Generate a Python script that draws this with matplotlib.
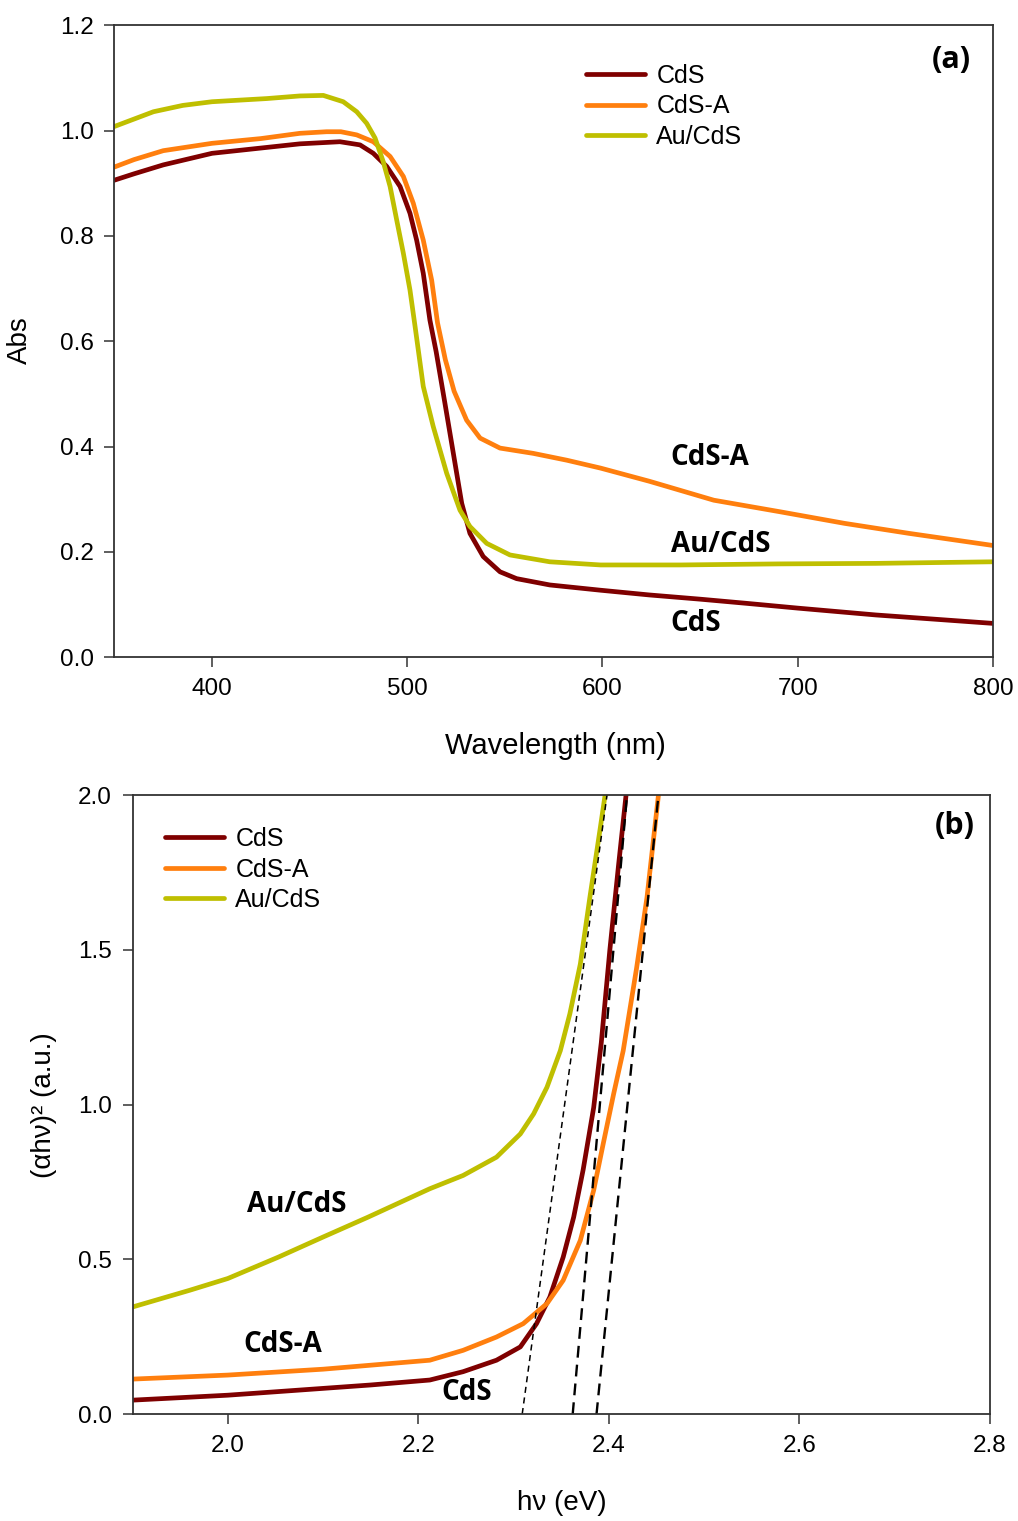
import matplotlib

matplotlib.use("Agg")
import matplotlib.pyplot as plt

plt.rcParams["font.family"] = ["Liberation Sans", "DejaVu Sans"]

SERIES = ["CdS", "CdS-A", "Au/CdS"]
COLORS = ["#7f0000", "#ff7f0e", "#bfbf00"]

# panel (a): absorbance vs wavelength
CDS_WL = [350, 360, 375, 400, 425, 445, 465.5, 475.8, 482.6, 489.5, 496.3, 501.4, 504.8, 508.2,
          511.6, 514.8, 519.3, 523.6, 527.9, 532.1, 538.9, 547.5, 556, 573, 599, 624, 650, 674,
          700, 740, 770, 800]
CDS_ABS = [0.906, 0.918, 0.935, 0.957, 0.967, 0.975, 0.979, 0.973, 0.957, 0.932, 0.894, 0.843,
           0.792, 0.729, 0.640, 0.580, 0.482, 0.387, 0.292, 0.235, 0.191, 0.162, 0.149, 0.137,
           0.127, 0.118, 0.110, 0.102, 0.093, 0.080, 0.072, 0.064]

CDSA_WL = [350, 360, 375, 400, 425, 445, 458.7, 466, 474.1, 482.6, 491.2, 498, 503.1, 508.2,
           512.5, 515.5, 519.5, 524, 530.4, 537.3, 547.5, 564.5, 581.7, 599, 624, 657, 691, 724,
           757, 800]
CDSA_ABS = [0.931, 0.945, 0.962, 0.976, 0.985, 0.995, 0.998, 0.998, 0.992, 0.979, 0.951, 0.913,
            0.862, 0.792, 0.716, 0.635, 0.565, 0.505, 0.450, 0.416, 0.397, 0.387, 0.374, 0.359,
            0.334, 0.298, 0.276, 0.254, 0.235, 0.212]

AU_WL = [350, 360, 370, 385, 400, 428, 445, 457, 467.2, 474.1, 479.2, 483.5, 487.7, 491.2,
         494.6, 498, 501.4, 504, 508.2, 513.3, 520.2, 527, 532.1, 540.7, 552.6, 573, 599, 640,
         690, 740, 800]
AU_ABS = [1.008, 1.022, 1.036, 1.048, 1.055, 1.061, 1.066, 1.067, 1.055, 1.036, 1.014, 0.986,
          0.941, 0.894, 0.830, 0.767, 0.697, 0.628, 0.514, 0.438, 0.349, 0.279, 0.248, 0.216,
          0.194, 0.181, 0.175, 0.175, 0.177, 0.178, 0.181]

# panel (b): Tauc plot
CDS_EV = [1.90, 1.95, 2.00, 2.05, 2.10, 2.15, 2.212, 2.247, 2.282, 2.307, 2.324, 2.338, 2.352,
          2.363, 2.373, 2.384, 2.392, 2.401, 2.41, 2.418]
CDS_TAUC = [0.045, 0.053, 0.061, 0.072, 0.083, 0.094, 0.110, 0.137, 0.174, 0.217, 0.292, 0.378,
            0.507, 0.636, 0.790, 0.990, 1.200, 1.500, 1.770, 2.000]

CDSA_EV = [1.90, 2.00, 2.10, 2.212, 2.247, 2.282, 2.31, 2.335, 2.352, 2.37, 2.384, 2.394, 2.405,
           2.415, 2.429, 2.44, 2.452]
CDSA_TAUC = [0.113, 0.126, 0.145, 0.174, 0.206, 0.249, 0.292, 0.357, 0.432, 0.561, 0.723, 0.873,
             1.035, 1.174, 1.440, 1.670, 2.000]

AU_EV = [1.90, 1.96, 2.00, 2.053, 2.10, 2.147, 2.212, 2.247, 2.282, 2.307, 2.321, 2.335, 2.349,
         2.359, 2.37, 2.38, 2.391, 2.396]
AU_TAUC = [0.346, 0.400, 0.438, 0.507, 0.572, 0.636, 0.728, 0.771, 0.830, 0.905, 0.970, 1.056,
           1.174, 1.293, 1.454, 1.669, 1.895, 2.000]

# tangent lines: x at y=0 and x at y=2.0 (Au/CdS, CdS, CdS-A)
TANGENT_X0 = [2.309, 2.362, 2.387]
TANGENT_X1 = [2.398, 2.419, 2.452]

A_XTICKS = [400, 500, 600, 700, 800]
A_YTICKS = [0.0, 0.2, 0.4, 0.6, 0.8, 1.0, 1.2]
B_XTICKS = [2.0, 2.2, 2.4, 2.6, 2.8]
B_YTICKS = [0.0, 0.5, 1.0, 1.5, 2.0]

SPINE = "#333333"
LABEL_FONT = ["Open Sans", "DejaVu Sans"]


def style_axes(ax):
    for sp in ax.spines.values():
        sp.set_color(SPINE)
        sp.set_linewidth(1.3)
    ax.tick_params(direction="out", length=7, width=1.1, color=SPINE,
                   labelsize=17.5, pad=8)


def add_legend(ax, anchor):
    ax.legend(loc="upper left", bbox_to_anchor=anchor, frameon=False, fontsize=18,
              handlelength=2.36, handletextpad=0.45, labelspacing=0.26, borderpad=0,
              borderaxespad=0)


fig = plt.figure(figsize=(10.18, 15.21), dpi=100)
ax_a = fig.add_axes([0.1124, 0.568, 0.9754 - 0.1124, 0.9833 - 0.568])
ax_b = fig.add_axes([0.1302, 0.0703, 0.9725 - 0.1302, 0.4773 - 0.0703])

# ---- panel (a)
for x, y, name, c in zip([CDS_WL, CDSA_WL, AU_WL], [CDS_ABS, CDSA_ABS, AU_ABS], SERIES, COLORS):
    ax_a.plot(x, y, color=c, lw=3.4, label=name, solid_capstyle="round")
ax_a.set_xlim(350, 800)
ax_a.set_ylim(0, 1.2)
ax_a.set_xticks(A_XTICKS)
ax_a.set_yticks(A_YTICKS)
ax_a.set_yticklabels([f"{v:.1f}" for v in A_YTICKS])
style_axes(ax_a)
ax_a.set_xlabel("Wavelength (nm)", fontsize=21)
ax_a.set_ylabel("Abs", fontsize=20)
ax_a.xaxis.set_label_coords(0.5015, -0.118)
ax_a.yaxis.set_label_coords(-0.093, 0.502)
add_legend(ax_a, (0.537, 0.939))
ax_a.text(0.953, 0.945, "(a)", transform=ax_a.transAxes, ha="center", va="center",
          fontsize=22, fontweight="bold", family=LABEL_FONT)
for name, yv in zip(["CdS-A", "Au/CdS", "CdS"], [0.38, 0.213, 0.063]):
    ax_a.text(635, yv, name, ha="left", va="center", fontsize=20, fontweight="bold",
              family=LABEL_FONT)

# ---- panel (b)
for x, y, name, c in zip([CDS_EV, CDSA_EV, AU_EV], [CDS_TAUC, CDSA_TAUC, AU_TAUC], SERIES, COLORS):
    ax_b.plot(x, y, color=c, lw=3.4, label=name, solid_capstyle="round")
for i, (x0, x1) in enumerate(zip(TANGENT_X0, TANGENT_X1)):
    if i == 0:
        ax_b.plot([x0, x1], [0, 2.0], color="black", lw=1.1, dashes=(4, 3))
    else:
        ax_b.plot([x0, x1], [0, 2.0], color="black", lw=1.7, dashes=(5, 3))
ax_b.set_xlim(1.9, 2.8)
ax_b.set_ylim(0, 2.0)
ax_b.set_xticks(B_XTICKS)
ax_b.set_yticks(B_YTICKS)
ax_b.set_xticklabels([f"{v:.1f}" for v in B_XTICKS])
ax_b.set_yticklabels([f"{v:.1f}" for v in B_YTICKS])
style_axes(ax_b)
ax_b.set_xlabel("h\u03bd (eV)", fontsize=20)
ax_b.set_ylabel("(\u03b1h\u03bd)\u00b2 (a.u.)", fontsize=20)
ax_b.xaxis.set_label_coords(0.501, -0.123)
ax_b.yaxis.set_label_coords(-0.088, 0.499)
add_legend(ax_b, (0.038, 0.948))
ax_b.text(0.959, 0.950, "(b)", transform=ax_b.transAxes, ha="center", va="center",
          fontsize=22, fontweight="bold", family=LABEL_FONT)
for name, xv, yv in zip(["Au/CdS", "CdS-A", "CdS"], [2.020, 2.016, 2.224], [0.677, 0.226, 0.071]):
    ax_b.text(xv, yv, name, ha="left", va="center", fontsize=20, fontweight="bold",
              family=LABEL_FONT)

fig.savefig("out.png", dpi=100)
